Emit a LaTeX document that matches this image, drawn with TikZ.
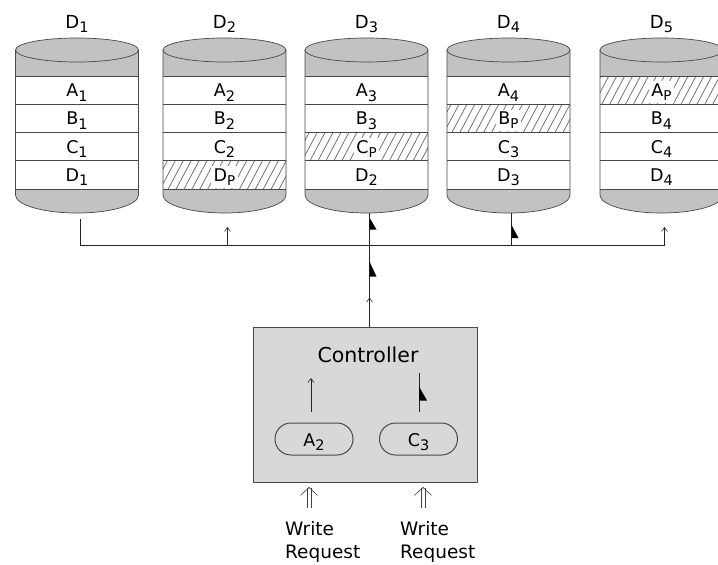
\documentclass[tikz,border=0pt]{standalone}
\usepackage{fontspec}
\setmainfont{DejaVu Sans}
\usetikzlibrary{arrows.meta,patterns.meta,decorations.markings,calc}
\definecolor{cylgray}{HTML}{C2C2C2}
\definecolor{boxgray}{HTML}{D8D8D8}
\definecolor{edge}{HTML}{484848}
\newcommand\dsub[1]{\raisebox{-4.5pt}{\fontsize{14.5}{14.5}\selectfont #1}}
\newcommand\psub[1]{\raisebox{-4pt}{\fontsize{13.5}{13.5}\selectfont #1}}
\newcommand\halftri[2]{\fill[black] (0pt,0pt) -- (-#1pt,0pt) -- (-#1pt,-#2pt) -- cycle;}
\newcommand\hatchrow[1]{\fill[pattern={Lines[angle=62,distance=7pt,line width=0.8pt]},pattern color=black!55] (-61.5,#1) rectangle (61.5,#1+28.25);}
\newcommand\diskcyl[8]{%
\begin{scope}[shift={(#1,0)}]
 \fill[cylgray] (-61.5,50) -- (-61.5,195) arc[start angle=180,end angle=0,x radius=61.5,y radius=18] -- (61.5,50) -- cycle;
 \fill[white] (-61.5,76) rectangle (61.5,189);
 \ifcase#8\or\hatchrow{76}\or\hatchrow{104.25}\or\hatchrow{132.5}\or\hatchrow{160.75}\fi
 \node[title] (#2t) at (0,28) {#3};
 \node[lab] (#2a) at (0,96.6) {#4};
 \node[lab] (#2bb) at (0,124.9) {#5};
 \node[lab] (#2c) at (0,153.1) {#6};
 \node[lab] (#2d) at (0,181.4) {#7};
 \foreach \yy in {76,104.25,132.5,160.75,189} \draw[edge,line width=0.6pt] (-61.5,\yy) -- (61.5,\yy);
 \draw[edge,line width=0.7pt] (-61.5,50) -- (-61.5,195) arc[start angle=180,end angle=0,x radius=61.5,y radius=18] -- (61.5,50);
 \filldraw[fill=cylgray,draw=edge,line width=0.7pt] (0,50) ellipse[x radius=61.5,y radius=12];
 \coordinate (#2b) at (3,213);
\end{scope}}
\tikzset{
 title/.style={anchor=base,inner sep=0pt,font=\fontsize{18}{18}\selectfont},
 lab/.style={anchor=base,fill=white,inner sep=2.5pt,font=\fontsize{17.5}{17.5}\selectfont},
 txt/.style={inner sep=0pt,font=\fontsize{18.5}{23}\selectfont},
 conn/.style={line width=0.6pt,draw=black!85},
 bus/.style={line width=1pt,draw=black!85},
 wline/.style={line width=0.6pt,draw=black!75},
 opentip/.style={-{Straight Barb[length=4pt,width=6pt,line width=0.6pt]}},
 ctrlbox/.style={draw=edge,line width=0.8pt,fill=boxgray,minimum width=224pt,minimum height=155pt,inner sep=0pt},
 pill/.style={draw=edge,line width=1pt,fill=boxgray,rounded corners=16pt,minimum width=78pt,minimum height=32pt,text height=14pt,text depth=0pt,inner sep=0pt,font=\fontsize{17.5}{17.5}\selectfont}
}
\begin{document}
\begin{tikzpicture}[x=1pt,y=-1pt]
\useasboundingbox (0,0) rectangle (718,565);
\fill[white] (0,0) rectangle (718,565);
\diskcyl{77}{d1}{D\dsub{1}}{A\dsub{1}}{B\dsub{1}}{C\dsub{1}}{D\dsub{1}}{0}
\diskcyl{224.5}{d2}{D\dsub{2}}{A\dsub{2}}{B\dsub{2}}{C\dsub{2}}{D\psub{P}}{4}
\diskcyl{366.5}{d3}{D\dsub{3}}{A\dsub{3}}{B\dsub{3}}{C\psub{P}}{D\dsub{2}}{3}
\diskcyl{508.5}{d4}{D\dsub{4}}{A\dsub{4}}{B\psub{P}}{C\dsub{3}}{D\dsub{3}}{2}
\diskcyl{661.5}{d5}{D\dsub{5}}{A\psub{P}}{B\dsub{4}}{C\dsub{4}}{D\dsub{4}}{1}
% controller
\node[ctrlbox] (ctrl) at (365,404.5) {};
\node[txt,anchor=base,font=\fontsize{20.5}{20.5}\selectfont] (ctl) at (368,362) {Controller};
\node[pill] (p1) at (314,439) {A\dsub{2}};
\node[pill] (p2) at (418.5,439) {C\dsub{3}};
\coordinate (v1) at (311,378);
\coordinate (v2) at (419,373);
% bus
\coordinate (busy) at (0,245);
\draw[bus] (d1b |- busy) -- (d5b |- busy);
\draw[conn,shorten >=6pt] (d1b |- busy) -- (d1b);
\draw[conn,opentip,shorten >=14pt] (d2b |- busy) -- (d2b);
\draw[conn,postaction={decorate},decoration={markings,
  mark=at position 29pt with {\arrow{Straight Barb[length=4pt,width=6pt,line width=0.6pt]}},
  mark=at position 65pt with {\halftri{15}{7}},
  mark=at position 109pt with {\halftri{12}{7}}}] (d3b |- ctrl.north) -- (d3b);
\draw[conn,postaction={decorate},decoration={markings,
  mark=at position 20pt with {\halftri{13}{7}}}] (d4b |- busy) -- (d4b);
\draw[conn,opentip,shorten >=14pt] (d5b |- busy) -- (d5b);
% inner arrows
\draw[conn,opentip,shorten <=11pt] (p1.north -| v1) -- (v1);
\draw[conn,shorten <=11pt,postaction={decorate},decoration={markings,
  mark=at position 36pt with {\halftri{14}{8}}}] (p2.north -| v2) -- (v2);
% write requests
\node[txt,anchor=base west,align=left] (w1) at (285,558) {Write\\Request};
\node[txt,anchor=base west,align=left] (w2) at (400,558) {Write\\Request};
\coordinate (wa1) at (309,508);
\coordinate (wa2) at (423,508);
\foreach \w in {wa1,wa2} {
  \draw[wline] ([xshift=-1.8pt]\w) -- ([xshift=-1.8pt,yshift=-5.5pt]\w |- ctrl.south);
  \draw[wline] ([xshift=1.8pt]\w) -- ([xshift=1.8pt,yshift=-5.5pt]\w |- ctrl.south);
  \draw[wline,line join=miter] ([shift={(-8.5pt,-13pt)}]\w |- ctrl.south) -- ([yshift=-5pt]\w |- ctrl.south) -- ([shift={(8.5pt,-13pt)}]\w |- ctrl.south);
}
\end{tikzpicture}
\end{document}
